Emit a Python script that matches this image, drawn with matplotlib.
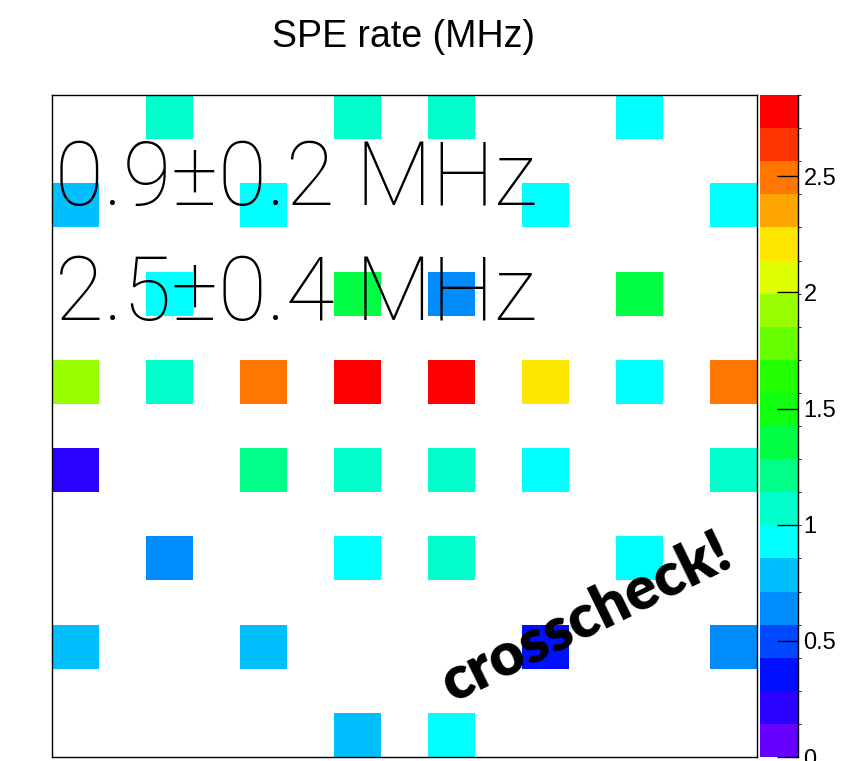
import numpy as np
import matplotlib
matplotlib.use("Agg")
import matplotlib.pyplot as plt
from matplotlib.colors import ListedColormap, BoundaryNorm

# 15x15 bins, only every other bin is filled (bin index from left / bottom)
cell_x = [1, 3, 4, 6,
          0, 2, 5, 7,
          1, 3, 4, 6,
          0, 1, 2, 3, 4, 5, 6, 7,
          0, 2, 3, 4, 5, 7,
          1, 3, 4, 6,
          0, 2, 5, 7,
          3, 4]
cell_y = [7, 7, 7, 7,
          6, 6, 6, 6,
          5, 5, 5, 5,
          4, 4, 4, 4, 4, 4, 4, 4,
          3, 3, 3, 3, 3, 3,
          2, 2, 2, 2,
          1, 1, 1, 1,
          0, 0]
rate = [1.07, 1.07, 1.07, 0.93,
        0.78, 0.93, 0.93, 0.93,
        0.93, 1.35, 0.64, 1.35,
        1.93, 1.07, 2.50, 2.82, 2.78, 2.20, 0.93, 2.50,
        0.21, 1.20, 1.07, 1.07, 0.93, 1.07,
        0.64, 0.93, 1.07, 0.93,
        0.78, 0.78, 0.36, 0.64,
        0.78, 0.93]

zmax = 2.85
nbins = 15

# ROOT-like rainbow palette, 20 contours
palette = ["#6600ff", "#2a00ff", "#0010ff", "#0048ff", "#008cff",
           "#00bfff", "#00ffff", "#00ffcc", "#00ff88", "#00ff44",
           "#11ff11", "#22ff00", "#66ff00", "#99ff00", "#ddff00",
           "#ffe600", "#ffa500", "#ff7700", "#ff3300", "#ff0000"]
cmap = ListedColormap(palette)
levels = np.linspace(0, zmax, len(palette) + 1)
norm = BoundaryNorm(levels, cmap.N)

fig = plt.figure(figsize=(8.66, 7.61), dpi=100)
ax = fig.add_axes([52 / 866, 4 / 761, 705 / 866, 662 / 761])
cax = fig.add_axes([760 / 866, 4 / 761, 38 / 866, 662 / 761])

# filled bins sit on even indices
xs = np.array(cell_x) * 2 + 0.5
ys = np.array(cell_y) * 2 + 0.5
h = ax.hist2d(xs, ys, bins=nbins, range=[[0, nbins], [0, nbins]],
              weights=rate, cmin=1e-6, cmap=cmap, norm=norm)

ax.set_xticks([])
ax.set_yticks([])
for s in ax.spines.values():
    s.set_linewidth(1.0)
    s.set_color("black")

cbar = fig.colorbar(h[3], cax=cax, ticks=[0, 0.5, 1, 1.5, 2, 2.5])
cbar.outline.set_visible(False)
cax.spines["right"].set_visible(True)
cax.spines["right"].set_linewidth(1.0)
cax.tick_params(axis="y", direction="in", length=15, width=1.0, pad=4,
                labelsize=17, right=True)
cbar.set_ticklabels(["0", "0.5", "1", "1.5", "2", "2.5"])
for lab in cax.get_yticklabels():
    lab.set_family("Liberation Sans")

fig.text(404 / 866, 1 - 37 / 761, "SPE rate (MHz)", ha="center", va="center",
         fontsize=27, family="Liberation Sans")

big = dict(fontsize=64, family=["Roboto", "DejaVu Sans"], fontweight="light",
           transform=ax.transAxes, ha="left", va="baseline")
ax.text(0.004, 0.834, "0.9\u00b10.2 MHz", **big)
ax.text(0.004, 0.660, "2.5\u00b10.4 MHz", **big)

ax.text(0.758, 0.21, "crosscheck!", transform=ax.transAxes, fontsize=43,
        family=["Lato", "DejaVu Sans"], fontweight="heavy", rotation=26,
        ha="center", va="center", rotation_mode="anchor")

fig.savefig("out.png", dpi=100)
